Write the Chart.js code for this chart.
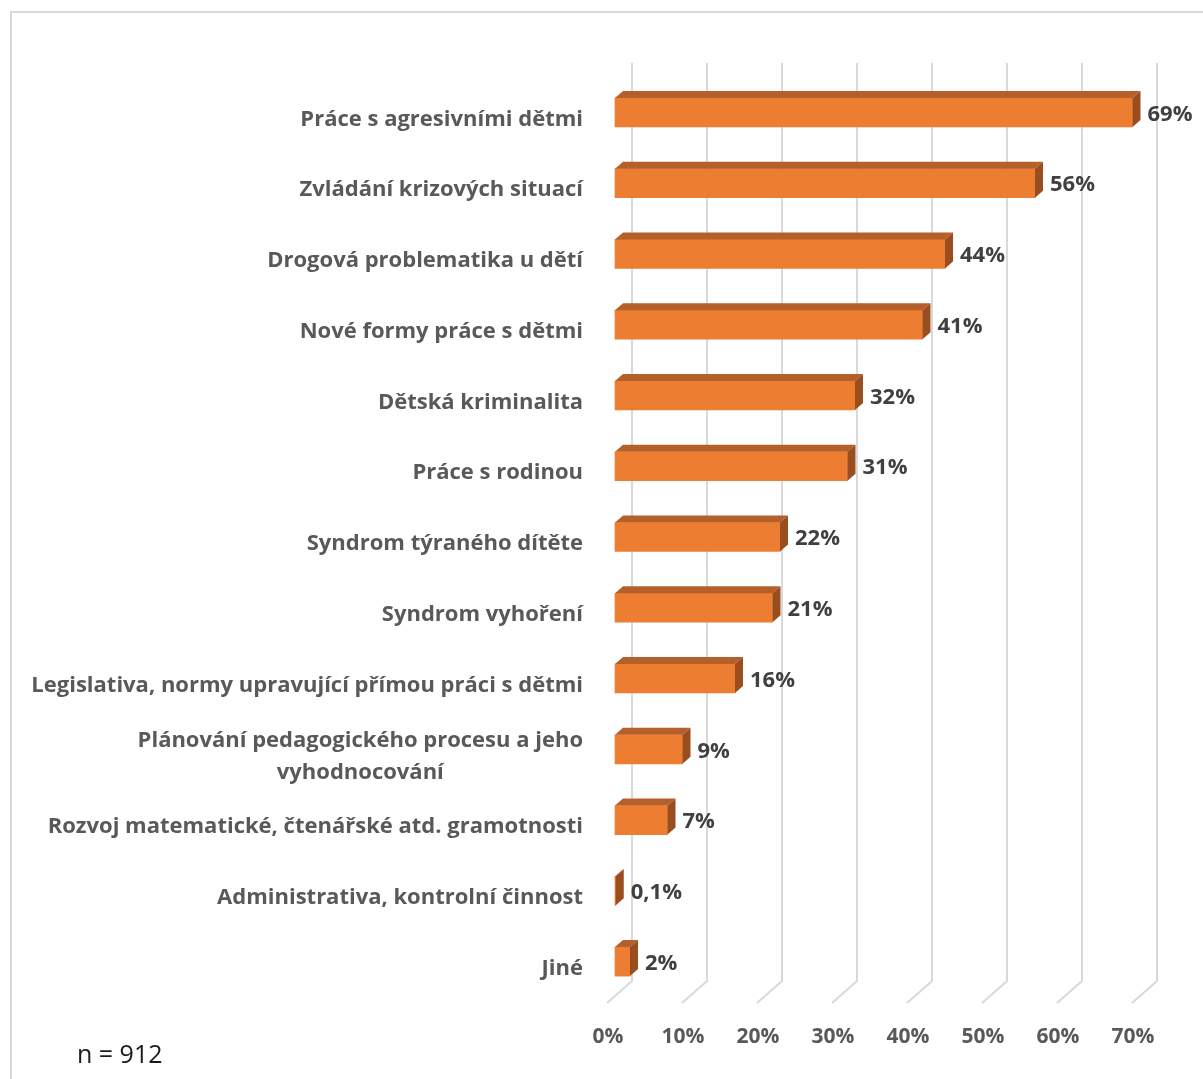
<!DOCTYPE html>
<html lang="cs">
<head>
<meta charset="utf-8">
<title>Témata dalšího vzdělávání</title>
<script src="https://cdn.jsdelivr.net/npm/chart.js@4/dist/chart.umd.min.js"></script>
<style>
  html, body { margin: 0; padding: 0; background: #fff; }
  #wrap { width: 1203px; height: 1079px; position: relative; }
</style>
</head>
<body>
<div id="wrap"><canvas id="chart" width="1203" height="1079"></canvas></div>
<script>
// Témata, o která mají respondenti zájem (podíl odpovědí v %)
const categories = [
  ['Práce s agresivními dětmi'],
  ['Zvládání krizových situací'],
  ['Drogová problematika u dětí'],
  ['Nové formy práce s dětmi'],
  ['Dětská kriminalita'],
  ['Práce s rodinou'],
  ['Syndrom týraného dítěte'],
  ['Syndrom vyhoření'],
  ['Legislativa, normy upravující přímou práci s dětmi'],
  ['Plánování pedagogického procesu a jeho', 'vyhodnocování'],
  ['Rozvoj matematické, čtenářské atd. gramotnosti'],
  ['Administrativa, kontrolní činnost'],
  ['Jiné']
];
const shares = [69, 56, 44, 41, 32, 31, 22, 21, 16, 9, 7, 0.1, 2];
const axisTicks = [0, 10, 20, 30, 40, 50, 60, 70];
const sampleNote = 'n = 912';

const FONT = '"Open Sans", "DejaVu Sans", sans-serif';
const FRONT = '#ED7D31';
const TOP = '#B5602A';
const SIDE = '#9A4D1F';
const GRID = '#D9D9D9';
// 3D depth of a bar and the offsets of the back wall / front floor edge
const DEPTH = { dx: 8, dy: -7 };
const WALL = { dx: 17, top: 63, bottom: 981 };
const FLOOR = { dx: -8, bottom: 1003 };

const fmt = v => String(v).replace('.', ',') + '%';

const frame3d = {
  id: 'frame3d',
  beforeDraw(chart) {
    const ctx = chart.ctx;
    ctx.save();
    ctx.fillStyle = '#fff';
    ctx.fillRect(0, 0, chart.width, chart.height);
    // outer frame
    ctx.strokeStyle = GRID;
    ctx.lineWidth = 2;
    ctx.beginPath();
    ctx.moveTo(11, chart.height);
    ctx.lineTo(11, 12);
    ctx.lineTo(chart.width, 12);
    ctx.stroke();
    ctx.restore();
  },
  beforeDatasetsDraw(chart) {
    const ctx = chart.ctx;
    const xs = chart.scales.x;
    ctx.save();
    ctx.strokeStyle = GRID;
    ctx.lineWidth = 2;
    axisTicks.forEach(v => {
      const px = xs.getPixelForValue(v);
      ctx.beginPath();
      ctx.moveTo(px + WALL.dx, WALL.top);
      ctx.lineTo(px + WALL.dx, WALL.bottom);
      ctx.lineTo(px + FLOOR.dx, FLOOR.bottom);
      ctx.stroke();
    });
    ctx.restore();
  },
  afterDatasetsDraw(chart) {
    const ctx = chart.ctx;
    const meta = chart.getDatasetMeta(0);
    ctx.save();
    meta.data.forEach((bar, i) => {
      const p = bar.getProps(['x', 'y', 'base', 'height'], true);
      const top = p.y - p.height / 2;
      const bot = p.y + p.height / 2;
      // top face
      ctx.fillStyle = TOP;
      ctx.beginPath();
      ctx.moveTo(p.base, top);
      ctx.lineTo(p.x, top);
      ctx.lineTo(p.x + DEPTH.dx, top + DEPTH.dy);
      ctx.lineTo(p.base + DEPTH.dx, top + DEPTH.dy);
      ctx.closePath();
      ctx.fill();
      // side face
      ctx.fillStyle = SIDE;
      ctx.beginPath();
      ctx.moveTo(p.x, top);
      ctx.lineTo(p.x + DEPTH.dx, top + DEPTH.dy);
      ctx.lineTo(p.x + DEPTH.dx, bot + DEPTH.dy);
      ctx.lineTo(p.x, bot);
      ctx.closePath();
      ctx.fill();
      // value label
      ctx.fillStyle = '#404040';
      ctx.font = 'bold 22px ' + FONT;
      ctx.textAlign = 'left';
      ctx.textBaseline = 'middle';
      ctx.fillText(fmt(shares[i]), p.x + DEPTH.dx + 7, p.y + 2);
    });
    ctx.restore();
  },
  afterDraw(chart) {
    const ctx = chart.ctx;
    const ys = chart.scales.y;
    ctx.save();
    ctx.fillStyle = '#595959';
    ctx.font = 'bold 22px ' + FONT;
    ctx.textBaseline = 'middle';
    ctx.textAlign = 'center';
    const right = 583, lh = 32;
    categories.forEach((lines, i) => {
      const cy = ys.getPixelForValue(i) + 7;
      const w = Math.max(...lines.map(t => ctx.measureText(t).width));
      const cx = right - w / 2;
      const y0 = cy - (lines.length - 1) * lh / 2;
      lines.forEach((t, k) => ctx.fillText(t, cx, y0 + k * lh));
    });
    // sample size note
    ctx.fillStyle = '#1a1a1a';
    ctx.font = '25px ' + FONT;
    ctx.textAlign = 'left';
    ctx.fillText(sampleNote, 77, 1056);
    ctx.restore();
  }
};

new Chart(document.getElementById('chart'), {
  type: 'bar',
  data: {
    labels: categories.map(l => l.join(' ')),
    datasets: [{
      data: shares,
      backgroundColor: FRONT,
      borderWidth: 0,
      barThickness: 29,
      clip: false
    }]
  },
  options: {
    indexAxis: 'y',
    responsive: false,
    animation: false,
    layout: { padding: { left: 615, right: 63, top: 77, bottom: 0 } },
    plugins: { legend: { display: false }, tooltip: { enabled: false } },
    scales: {
      y: { display: false, offset: true },
      x: {
        min: 0, max: 70,
        afterBuildTicks: s => { s.ticks = axisTicks.map(v => ({ value: v })); },
        afterFit: s => { s.height = 82; },
        grid: { display: false },
        border: { display: false },
        ticks: {
          callback: v => v + '%',
          color: '#595959',
          font: { family: FONT, size: 21, weight: 'bold' },
          padding: 19,
          labelOffset: -7,
          maxRotation: 0
        }
      }
    }
  },
  plugins: [frame3d]
});
</script>
</body>
</html>
